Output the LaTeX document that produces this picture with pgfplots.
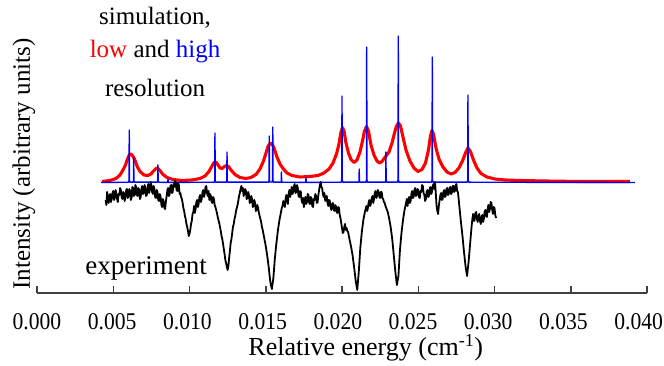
\documentclass[border=0pt]{standalone}
\usepackage{fontspec}
\setmainfont{Liberation Serif}
\newfontfamily\tickfont{Liberation Serif}[FakeStretch=0.9]
\usepackage{pgfplots}
\pgfplotsset{compat=1.18}
\definecolor{axgray}{HTML}{404040}
\begin{document}
\begin{tikzpicture}
\useasboundingbox (-37pt,-73pt) rectangle (627pt,293pt);
\begin{axis}[
 at={(0pt,0pt)}, anchor=south west,
 scale only axis, width=610pt, height=293pt,
 xmin=0, xmax=0.040, ymin=0, ymax=293,
 axis x line*=bottom, axis y line*=left,
 y axis line style={draw=none},
 x axis line style={axgray, line width=1.8pt, -},
 ytick=\empty,
 scaled x ticks=false,
 xtick={0,0.005,0.010,0.015,0.020,0.025,0.030,0.035,0.040},
 xticklabels={0.000,0.005,0.010,0.015,0.020,0.025,0.030,0.035,0.040},
 tick align=inside, major tick length=7pt,
 xtick style={axgray, line width=1.5pt},
 xticklabel style={font=\tickfont\fontsize{24}{28}\selectfont, anchor=base, yshift=-37pt, xshift={-1.05pt*\ticknum}},
 xlabel={Relative energy (cm\textsuperscript{-1})},
 ylabel={Intensity (arbitrary units)},
 xlabel style={font=\fontsize{26}{30}\selectfont, at={(axis description cs:0.539,-0.215)}, anchor=base},
 ylabel style={font=\fontsize{25}{30}\selectfont, at={(axis description cs:-0.0115,0.44)}, anchor=base},
 clip=false,
]
% low resolution simulation
\addplot[red, line width=3.1pt, line join=round] coordinates {
(0.004262,111.5)(0.004787,112.5)(0.005180,114.5)(0.005442,118)(0.005639,123)
(0.005803,128)(0.005934,134)(0.006065,138.5)(0.006164,139)(0.006262,137.5)
(0.006393,134)(0.006557,127)(0.006754,121.5)(0.007016,118)(0.007278,117.5)
(0.007475,119)(0.007639,122)(0.007803,124.5)(0.007934,124.5)(0.008065,122.5)
(0.008262,118.5)(0.008524,115.5)(0.008918,113.5)(0.009508,112.5)(0.010163,113)
(0.010688,114.5)(0.011016,117)(0.011278,121.5)(0.011475,127)(0.011606,130.5)
(0.011737,131)(0.011868,128)(0.012000,125)(0.012130,124.5)(0.012294,126.5)
(0.012426,127.5)(0.012557,126.5)(0.012721,123)(0.012983,118.5)(0.013311,115.5)
(0.013704,114.5)(0.014032,115.5)(0.014360,118.5)(0.014622,124)(0.014852,132)
(0.015016,140)(0.015147,146.5)(0.015278,149.5)(0.015409,149.5)(0.015540,145)
(0.015737,136)(0.015934,129)(0.016130,124.5)(0.016393,120)(0.016720,117.5)
(0.017245,116)(0.017901,116.5)(0.018425,117.5)(0.018819,120)(0.019146,124)
(0.019409,130)(0.019638,139)(0.019802,149)(0.019933,161)(0.020032,165.5)
(0.020130,162)(0.020261,150)(0.020425,140)(0.020589,133.5)(0.020786,130.5)
(0.020982,133)(0.021179,141)(0.021343,152)(0.021474,162)(0.021605,166.5)
(0.021736,162)(0.021900,148)(0.022097,138)(0.022294,132)(0.022458,130)
(0.022622,131.5)(0.022786,135)(0.022917,137.5)(0.023081,141)(0.023277,150)
(0.023441,160)(0.023572,167)(0.023704,170)(0.023835,167)(0.023999,156)
(0.024195,143)(0.024458,132)(0.024720,125)(0.024982,121.5)(0.025244,123.5)
(0.025474,130)(0.025671,143)(0.025802,157)(0.025900,162.5)(0.025999,159)
(0.026162,145)(0.026359,134)(0.026621,126)(0.026884,121)(0.027146,119)
(0.027408,120.5)(0.027671,125)(0.027900,132)(0.028097,140)(0.028261,145)
(0.028425,141.5)(0.028621,133)(0.028851,125)(0.029113,119.5)(0.029507,116)
(0.030031,114)(0.030687,113)(0.031670,112.5)(0.033310,112)(0.035605,111.5)
(0.038883,111.5)
};
% high resolution simulation
\addplot[blue, line width=1.4pt, line join=round] coordinates {
(0.0042,110.5)
(0.00600,110.8)(0.006035,112.5)(0.00605,163)(0.006065,112.5)(0.00610,110.8)
(0.00629,110.8)(0.006325,112)(0.00634,135)(0.006355,112)(0.00639,110.8)
(0.00788,110.8)(0.007915,112)(0.00793,128)(0.007945,112)(0.00798,110.8)
(0.00855,110.6)(0.00858,111)(0.00859,114)(0.00860,111)(0.00863,110.6)
(0.01162,110.8)(0.011655,112.5)(0.01167,160)(0.011685,112.5)(0.01172,110.8)
(0.01241,110.8)(0.012445,112.5)(0.01246,141)(0.012475,112.5)(0.01251,110.8)
(0.01518,110.8)(0.015215,112.5)(0.01523,157)(0.015245,112.5)(0.01528,111)
(0.01541,111)(0.015445,112.5)(0.01546,166)(0.015475,112.5)(0.01551,110.8)
(0.01599,110.8)(0.01602,111.5)(0.01603,121)(0.01604,111.5)(0.01607,110.8)
(0.01760,110.6)(0.01763,111)(0.01764,115.5)(0.01765,111)(0.01768,110.6)
(0.01995,110.8)(0.019985,113)(0.02000,197)(0.020015,113)(0.02005,110.8)
(0.02109,110.8)(0.02112,111.5)(0.02113,124)(0.02114,111.5)(0.02117,110.8)
(0.02157,110.8)(0.021605,113)(0.02162,246)(0.021635,113)(0.02167,110.8)
(0.02283,110.8)(0.022865,112)(0.02288,141)(0.022895,112)(0.02293,110.8)
(0.02364,110.8)(0.023675,113)(0.02369,257)(0.023705,113)(0.02374,110.8)
(0.02587,110.8)(0.025905,113)(0.02592,236)(0.025935,113)(0.02597,110.8)
(0.02821,110.8)(0.028245,113)(0.02826,198)(0.028275,113)(0.02831,110.8)
(0.0392,110.5)
};
% experiment
\addplot[black, line width=1.8pt, line join=round] coordinates {
(0.0045,93)(0.00455,88)(0.0046,101)(0.00465,96)(0.0047,90)(0.00475,97)(0.0048,99)(0.00485,91)
(0.0049,94)(0.00495,100)(0.0050,102)(0.00505,93)(0.0051,95)(0.00515,103)(0.0052,100)(0.00525,94)
(0.0053,91)(0.00535,99)(0.0054,98)(0.00545,105)(0.0055,103)(0.00555,96)(0.0056,94)(0.00565,101)
(0.0057,100)(0.00575,92)(0.0058,96)(0.00585,103)(0.0059,104)(0.00595,95)(0.0060,97)(0.00605,104)
(0.0061,102)(0.00615,93)(0.0062,95)(0.00625,106)(0.0063,105)(0.00635,97)(0.0064,98)(0.00645,108)
(0.0065,106)(0.00655,98)(0.0066,97)(0.00665,105)(0.0067,103)(0.00675,94)(0.0068,96)(0.00685,104)
(0.0069,107)(0.00695,99)(0.0070,100)(0.00705,108)(0.0071,105)(0.00715,97)(0.0072,98)(0.00725,106)
(0.0073,109)(0.00735,100)(0.0074,103)(0.00745,111)(0.0075,108)(0.00755,101)(0.0076,99)(0.00765,107)
(0.0077,104)(0.00775,96)(0.0078,95)(0.00785,103)(0.0079,101)(0.00795,93)(0.0080,92)(0.00805,99)
(0.0081,97)(0.00815,89)(0.0082,86)(0.00825,94)(0.0083,92)(0.00835,85)(0.0084,84)(0.00845,91)
(0.0085,97)(0.00855,103)(0.0086,105)(0.00865,97)(0.0087,99)(0.00875,107)(0.0088,108)(0.00885,100)
(0.0089,101)(0.00895,109)(0.0090,106)(0.00905,112)(0.0091,111)(0.00915,103)(0.0092,102)(0.00925,110)
(0.0093,108)(0.00935,99)(0.0094,100)(0.00945,96)(0.0095,94)(0.00955,90)(0.0096,85)(0.00965,82)
(0.0097,77)(0.00975,74)(0.0098,69)(0.00985,66)(0.0099,62)(0.00995,57)(0.0100,59)(0.01005,63)
(0.0101,69)(0.01015,72)(0.0102,79)(0.01025,81)(0.0103,87)(0.01035,80)(0.0104,84)(0.01045,91)
(0.0105,93)(0.01055,86)(0.0106,89)(0.01065,96)(0.0107,98)(0.01075,91)(0.0108,94)(0.01085,101)
(0.0109,103)(0.01095,96)(0.0110,99)(0.01105,106)(0.0111,107)(0.01115,100)(0.0112,97)(0.01125,102)
(0.0113,93)(0.01135,99)(0.0114,97)(0.01145,91)(0.0115,90)(0.01155,96)(0.0116,94)(0.01165,88)
(0.0117,86)(0.01175,83)(0.0118,80)(0.01185,76)(0.0119,73)(0.01195,70)(0.0120,66)(0.01205,62)
(0.0121,57)(0.01215,54)(0.0122,49)(0.01225,44)(0.0123,39)(0.01235,33)(0.0124,30)(0.01245,26)
(0.0125,23)(0.01255,27)(0.0126,35)(0.01265,42)(0.0127,50)(0.01275,54)(0.0128,60)(0.01285,66)
(0.0129,69)(0.01295,74)(0.0130,77)(0.01305,82)(0.0131,85)(0.01315,88)(0.0132,92)(0.01325,97)
(0.0133,100)(0.01335,104)(0.0134,107)(0.01345,102)(0.0135,105)(0.01355,97)(0.0136,99)(0.01365,104)
(0.0137,102)(0.01375,94)(0.0138,95)(0.01385,101)(0.0139,98)(0.01395,90)(0.0140,91)(0.01405,97)
(0.0141,94)(0.01415,86)(0.0142,87)(0.01425,93)(0.0143,90)(0.01435,82)(0.0144,83)(0.01445,88)
(0.0145,85)(0.01455,80)(0.0146,77)(0.01465,74)(0.0147,71)(0.01475,66)(0.0148,63)
(0.0149,55)(0.0150,47)(0.0151,37)(0.0152,25)(0.0153,11)(0.0154,4)(0.0155,15)(0.0156,35)
(0.0157,50)(0.0158,63)(0.0159,73)(0.0160,81)(0.01605,85)(0.0161,87)(0.01615,92)(0.0162,90)
(0.01625,86)(0.0163,94)(0.01635,98)(0.0164,92)(0.01645,89)(0.0165,99)(0.01655,103)(0.0166,96)
(0.01665,100)(0.0167,106)(0.01675,99)(0.0168,101)(0.01685,107)(0.0169,109)(0.01695,100)(0.0170,101)
(0.01705,108)(0.0171,105)(0.01715,97)(0.0172,96)(0.01725,102)(0.0173,101)(0.01735,93)(0.0174,90)
(0.01745,95)(0.0175,86)(0.01755,92)(0.0176,96)(0.01765,89)(0.0177,91)(0.01775,99)(0.0178,98)
(0.01785,90)(0.0179,89)(0.01795,96)(0.0180,95)(0.01805,87)(0.0181,86)(0.01815,94)(0.0182,93)
(0.01825,99)(0.0183,97)(0.01835,90)(0.0184,91)(0.01845,98)(0.0185,103)(0.01855,108)(0.0186,111)
(0.01865,106)(0.0187,105)(0.01875,99)(0.0188,96)(0.01885,100)(0.0189,92)(0.01895,95)(0.0190,97)
(0.01905,90)(0.0191,87)(0.01915,93)(0.0192,92)(0.01925,86)(0.0193,83)(0.01935,89)(0.0194,90)
(0.01945,84)(0.0195,82)(0.01955,88)(0.0196,87)(0.01965,81)(0.0197,80)(0.01975,86)(0.0198,85)
(0.01985,78)(0.0199,75)(0.01995,70)(0.0200,65)(0.02005,60)(0.0201,61)(0.02015,66)(0.0202,69)
(0.02025,63)(0.0203,65)(0.02035,62)(0.0204,61)(0.02045,57)(0.0205,53)
(0.0206,46)(0.0207,37)(0.0208,25)(0.0209,12)(0.0210,3)(0.0211,21)(0.0212,45)
(0.0213,61)(0.0214,73)(0.0215,81)(0.0216,87)(0.02165,82)(0.0217,85)(0.02175,91)(0.0218,93)
(0.02185,87)(0.0219,90)(0.02195,95)(0.0220,97)(0.02205,90)(0.0221,94)(0.02215,100)(0.0222,102)
(0.02225,95)(0.0223,97)(0.02235,103)(0.0224,101)(0.02245,96)(0.0225,95)(0.02255,101)(0.0226,101)
(0.02265,95)(0.0227,94)(0.02275,91)(0.0228,90)(0.02285,87)(0.0229,85)
(0.0230,81)(0.0231,74)(0.0232,65)(0.0233,53)(0.0234,37)(0.0235,21)(0.0236,8)
(0.0237,17)(0.0238,43)(0.0239,60)(0.0240,73)(0.0241,83)(0.0242,90)(0.02425,94)(0.0243,87)
(0.02435,93)(0.0244,96)(0.02445,90)(0.0245,92)(0.02455,99)(0.0246,102)(0.02465,95)(0.0247,96)
(0.02475,103)(0.0248,105)(0.02485,97)(0.0249,98)(0.02495,104)(0.0250,103)(0.02505,96)(0.0251,95)
(0.02515,102)(0.0252,101)(0.02525,108)(0.0253,107)(0.02535,100)(0.0254,98)(0.02545,92)(0.0255,94)
(0.02555,101)(0.0256,103)(0.02565,96)(0.0257,97)(0.02575,104)(0.0258,106)(0.02585,99)(0.0259,101)
(0.02595,107)(0.0260,109)(0.02605,104)(0.0261,111)(0.02615,100)(0.0262,87)(0.02625,82)(0.0263,79)
(0.02635,87)(0.0264,93)(0.02645,98)(0.0265,100)(0.02655,93)(0.0266,94)(0.02665,101)(0.0267,103)
(0.02675,96)(0.0268,97)(0.02685,104)(0.0269,105)(0.02695,98)(0.0270,99)(0.02705,105)(0.0271,106)
(0.02715,99)(0.0272,100)(0.02725,107)(0.0273,107)(0.02735,101)(0.0274,102)(0.02745,108)(0.0275,109)
(0.02755,102)(0.0276,101)(0.02765,94)
(0.0277,86)(0.0278,71)(0.0279,57)(0.0280,41)(0.0281,27)(0.0282,17)(0.0283,31)(0.0284,49)
(0.0285,67)(0.02855,74)(0.0286,79)(0.02865,72)(0.0287,73)(0.02875,80)(0.0288,81)(0.02885,74)
(0.0289,71)(0.02895,77)(0.0290,79)(0.02905,72)(0.0291,69)(0.02915,76)(0.0292,78)(0.02925,71)
(0.0293,74)(0.02935,81)(0.0294,83)(0.02945,77)(0.0295,76)(0.02955,84)(0.0296,88)(0.02965,81)
(0.0297,84)(0.02975,91)(0.0298,90)(0.02985,83)(0.0299,79)(0.02995,86)(0.0300,85)(0.03005,78)
(0.0301,75)
};
\node[font=\fontsize{25}{30}\selectfont] at (axis cs:0.00774,275) {simulation,};
\node[font=\fontsize{25}{30}\selectfont] at (axis cs:0.00774,241) {\textcolor{red}{low} and \textcolor{blue}{high}};
\node[font=\fontsize{25}{30}\selectfont] at (axis cs:0.00774,205) {resolution};
\node[font=\fontsize{27}{31}\selectfont] at (axis cs:0.00715,25) {experiment};
\end{axis}
\end{tikzpicture}
\end{document}
